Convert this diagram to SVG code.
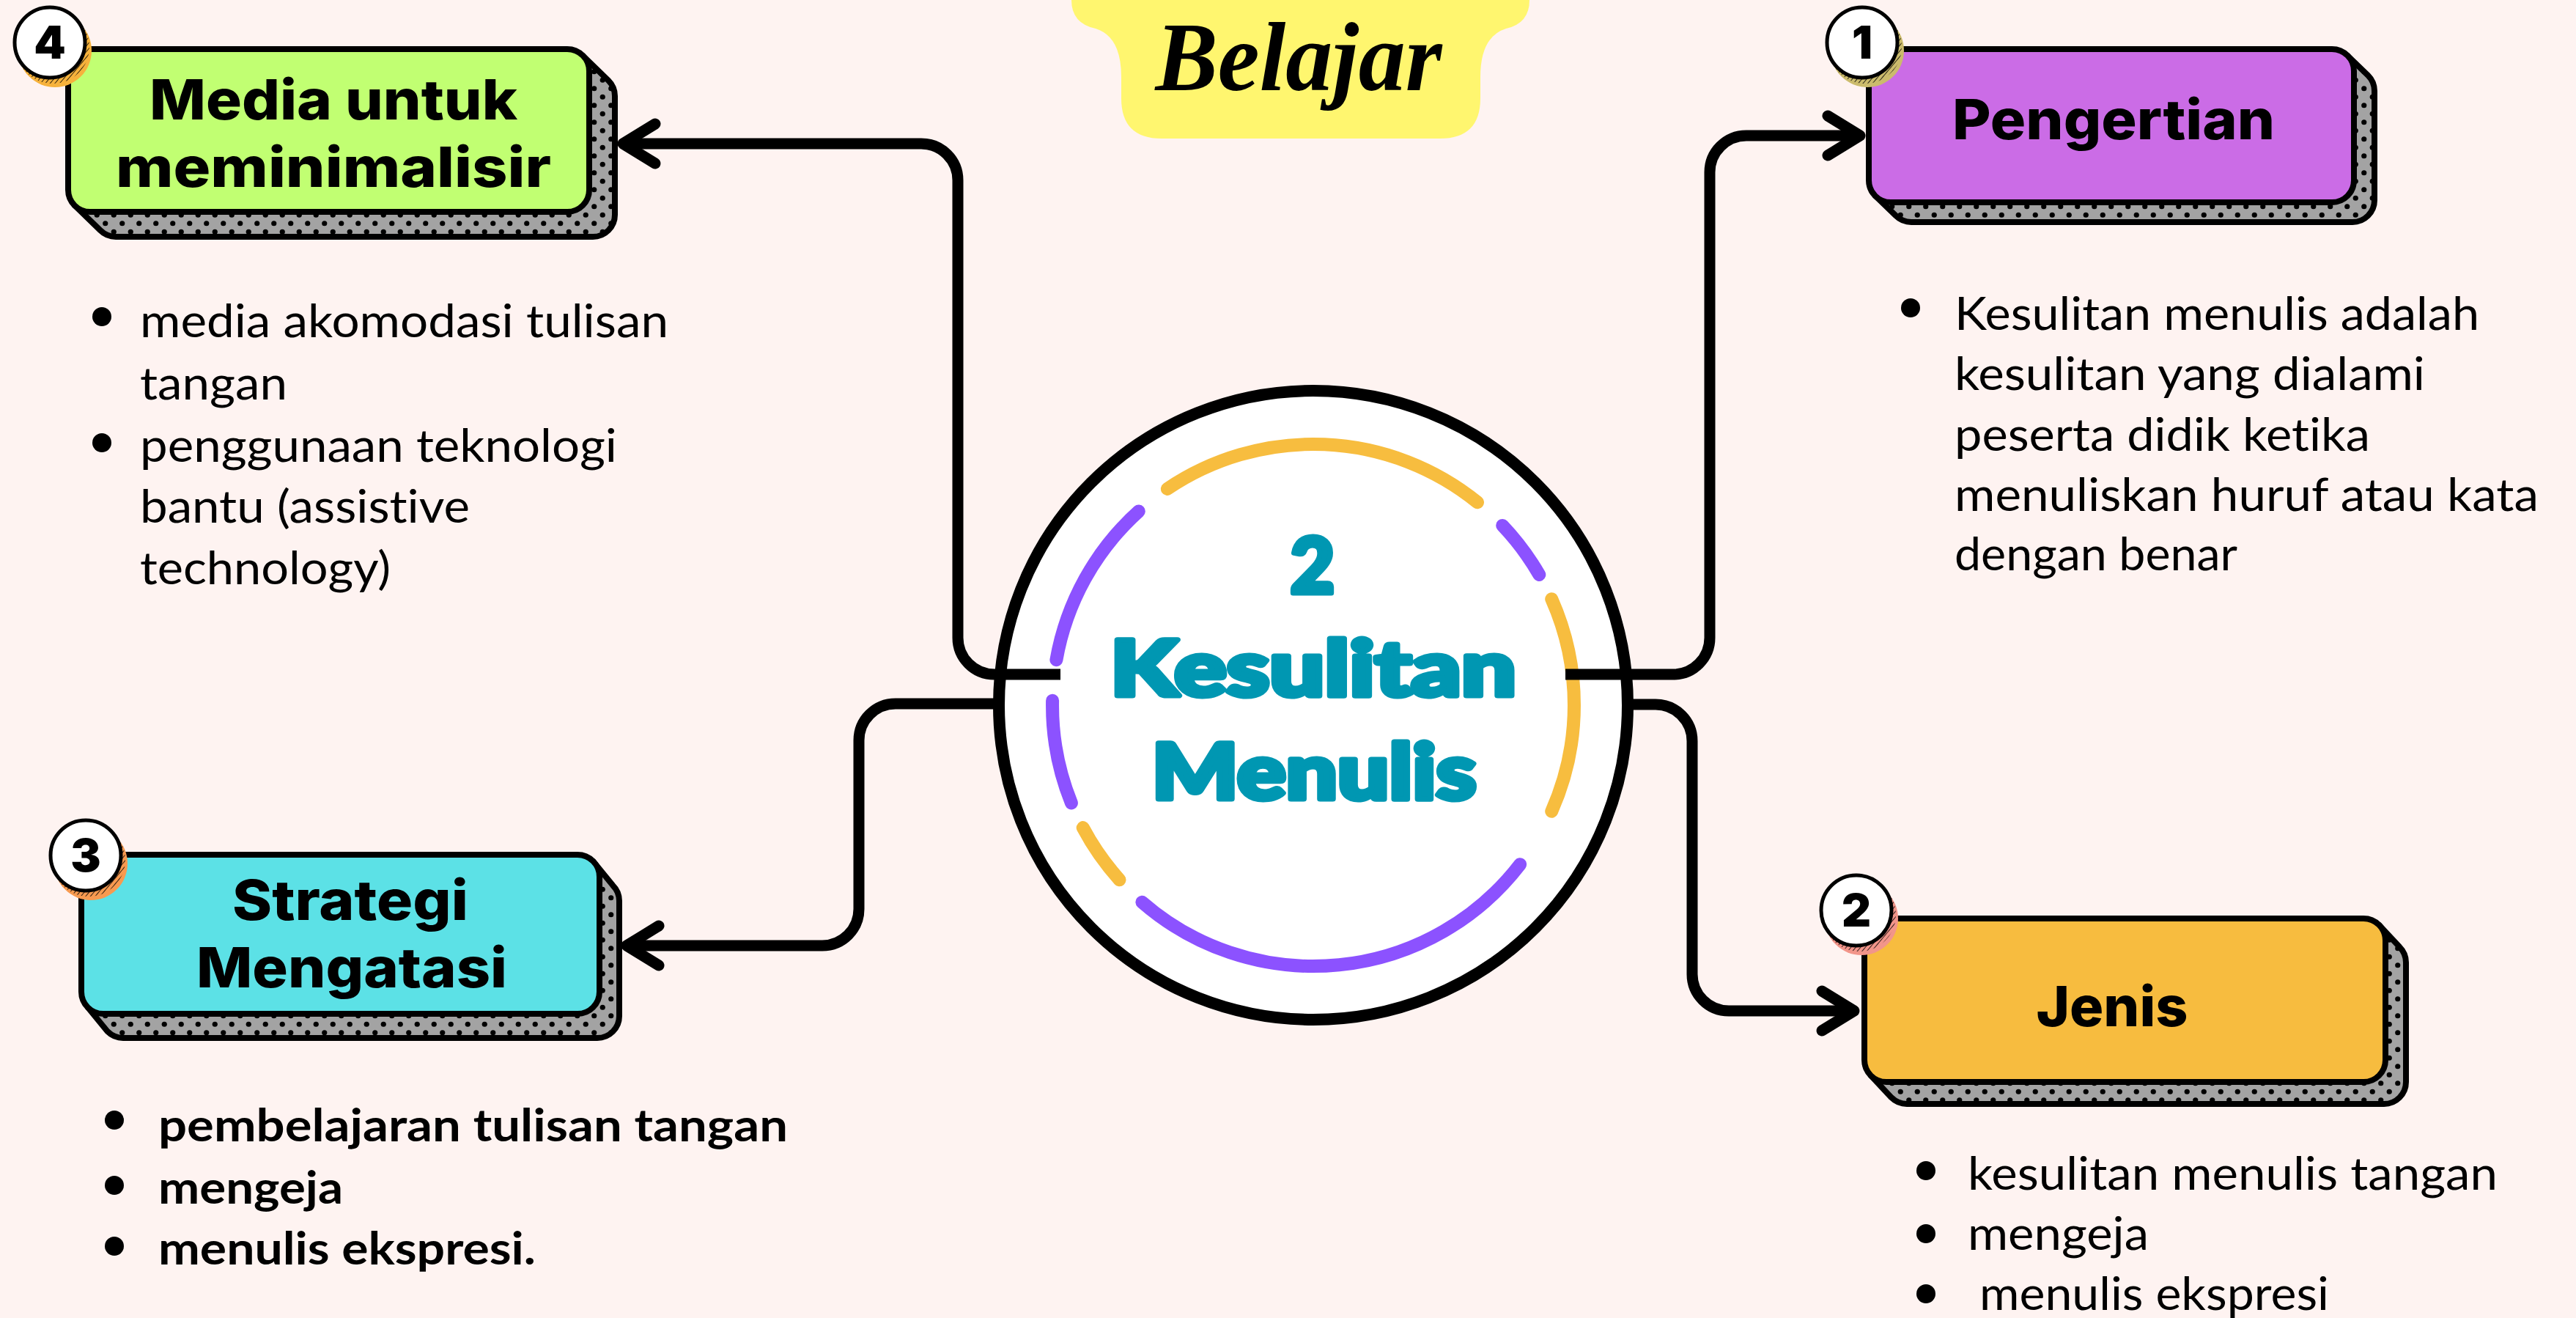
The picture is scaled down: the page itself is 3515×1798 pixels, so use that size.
<svg xmlns="http://www.w3.org/2000/svg" width="3515" height="1798" viewBox="0 0 3515 1798">
<style>
.box{stroke:#000;stroke-width:8}
.ext{fill:url(#dots);stroke:#000;stroke-width:8;stroke-linejoin:round}
.ttl{font-family:Inter,"Open Sans",sans-serif;font-weight:800;font-size:76px;fill:#000;text-anchor:middle}
.num{font-family:Inter,"Open Sans",sans-serif;font-weight:900;font-size:62px;fill:#000;text-anchor:middle}
.bw{fill:#fff;stroke:#000;stroke-width:5}
.body{font-family:Lato,"Open Sans",sans-serif;font-size:62px;fill:#000;font-variant-ligatures:none}
.bold{font-weight:700}
.conn{fill:none;stroke:#000;stroke-width:15;stroke-linecap:butt;stroke-linejoin:round}
.ring{fill:none;stroke-width:18;stroke-linecap:round}
.cen{font-family:Lato,Inter,sans-serif;font-weight:900;font-size:104px;fill:#0097B2;stroke:#0097B2;stroke-width:7;stroke-linejoin:round;text-anchor:middle}
</style>
<defs>
<pattern id="dots" width="23" height="23" patternUnits="userSpaceOnUse">
<rect width="23" height="23" fill="#A3A3A3"/>
<circle cx="5.75" cy="5.75" r="3.6" fill="#000"/>
<circle cx="17.25" cy="17.25" r="3.6" fill="#000"/>
</pattern>
<pattern id="hatch" width="5" height="5" patternUnits="userSpaceOnUse" patternTransform="rotate(40)">
<line x1="0" y1="0" x2="0" y2="5" stroke="#000" stroke-width="1.6"/>
</pattern>
<marker id="arr" markerUnits="userSpaceOnUse" markerWidth="80" markerHeight="80" viewBox="-60 -40 80 80" refX="0" refY="0" orient="auto" overflow="visible">
<path d="M-44,-27 L0,0 L-44,27" fill="none" stroke="#000" stroke-width="15" stroke-linecap="round" stroke-linejoin="round"/>
</marker>
</defs>
<rect width="3515" height="1798" fill="#FEF3F1"/>

<g id="title">
<path d="M1462,0 L2087,0 Q2087,32 2055,39 Q2020,50 2020,105 L2020,134 Q2020,189 1965,189 L1585,189 Q1530,189 1530,134 L1530,105 Q1530,50 1495,39 Q1462,32 1462,0 Z" fill="#FFF66F"/>
<text x="1772" y="123" font-family="'Liberation Serif',serif" font-style="italic" font-weight="700" font-size="134" text-anchor="middle" textLength="391" lengthAdjust="spacingAndGlyphs">Belajar</text>
</g>

<g id="center">
<circle cx="1792" cy="962" r="429" fill="#fff" stroke="#000" stroke-width="16"/>
<path class="ring" stroke="#F7BD3F" d="M1592.9,666.9 A356 356 0 0 1 2016,685.3"/>
<path class="ring" stroke="#8C52FF" d="M2050.2,716.9 A356 356 0 0 1 2100.3,784"/>
<path class="ring" stroke="#F7BD3F" d="M2117.2,817.2 A356 356 0 0 1 2117.2,1106.8"/>
<path class="ring" stroke="#8C52FF" d="M2074.1,1179.2 A356 356 0 0 1 1558.4,1230.7"/>
<path class="ring" stroke="#F7BD3F" d="M1527.5,1200.2 A356 356 0 0 1 1477.7,1129.1"/>
<path class="ring" stroke="#8C52FF" d="M1461.9,1095.4 A356 356 0 0 1 1436.1,955.8"/>
<path class="ring" stroke="#8C52FF" d="M1441.4,900.2 A356 356 0 0 1 1553.8,697.5"/>
<text class="cen" x="1791" y="809">2</text>
<text class="cen" x="1792" y="949" textLength="554" lengthAdjust="spacingAndGlyphs">Kesulitan</text>
<text class="cen" x="1793" y="1090" textLength="443" lengthAdjust="spacingAndGlyphs">Menulis</text>
</g>

<g id="connectors">
<path class="conn" marker-end="url(#arr)" d="M1447,920 H1357 A50 50 0 0 1 1307,870 V246 A50 50 0 0 0 1257,196 H850"/>
<path class="conn" marker-end="url(#arr)" d="M1356,960 H1222 A50 50 0 0 0 1172,1010 V1240 A50 50 0 0 1 1122,1290 H855"/>
<path class="conn" marker-end="url(#arr)" d="M2136,920 H2283 A50 50 0 0 0 2333,870 V235 A50 50 0 0 1 2383,185 H2538"/>
<path class="conn" marker-end="url(#arr)" d="M2228,961 H2259 A50 50 0 0 1 2309,1011 V1329 A50 50 0 0 0 2359,1379 H2530"/>
</g>

<g id="node4">
<path class="ext" d="M795.2,75.8 L830.2,109.8 A30 30 0 0 1 839,131 L839,293 A30 30 0 0 1 809,323 L158,323 A30 30 0 0 1 136.8,314.2 L101.8,280.2 Z"/>
<rect class="box" x="93" y="67" width="711" height="222" rx="30" fill="#C1FF72"/>
<text class="ttl" x="455" y="163" textLength="502" lengthAdjust="spacingAndGlyphs">Media untuk</text>
<text class="ttl" x="455" y="255" textLength="594" lengthAdjust="spacingAndGlyphs">meminimalisir</text>
<circle cx="75" cy="69" r="50" fill="#F6B23C"/>
<circle cx="72" cy="64" r="50" fill="url(#hatch)"/>
<circle class="bw" cx="68" cy="58" r="48"/>
<text class="num" x="68" y="80">4</text>
</g>

<g id="node4-text">
<circle cx="139" cy="432" r="13"/>
<text class="body" x="191" y="460" textLength="721" lengthAdjust="spacingAndGlyphs">media akomodasi tulisan</text>
<text class="body" x="191" y="545" textLength="201" lengthAdjust="spacingAndGlyphs">tangan</text>
<circle cx="139" cy="604" r="13"/>
<text class="body" x="191" y="630" textLength="651" lengthAdjust="spacingAndGlyphs">penggunaan teknologi</text>
<text class="body" x="191" y="713" textLength="450" lengthAdjust="spacingAndGlyphs">bantu (assistive</text>
<text class="body" x="191" y="797" textLength="342" lengthAdjust="spacingAndGlyphs">technology)</text>
</g>

<g id="node1">
<path class="ext" d="M3203.2,75.8 L3231.2,102.8 A30 30 0 0 1 3240,124 L3240,273 A30 30 0 0 1 3210,303 L2608,303 A30 30 0 0 1 2586.8,294.2 L2558.8,267.2 Z"/>
<rect class="box" x="2550" y="67" width="662" height="209" rx="30" fill="#CB6CE6"/>
<text class="ttl" x="2884" y="190" textLength="440" lengthAdjust="spacingAndGlyphs">Pengertian</text>
<circle cx="2548" cy="69" r="50" fill="#CBBB6C"/>
<circle cx="2545" cy="64" r="50" fill="url(#hatch)"/>
<circle class="bw" cx="2541" cy="58" r="48"/>
<text class="num" x="2541" y="80">1</text>
</g>

<g id="node1-text">
<circle cx="2607" cy="420" r="13"/>
<text class="body" x="2667" y="450" textLength="716" lengthAdjust="spacingAndGlyphs">Kesulitan menulis adalah</text>
<text class="body" x="2667" y="532" textLength="642" lengthAdjust="spacingAndGlyphs">kesulitan yang dialami</text>
<text class="body" x="2667" y="615" textLength="567" lengthAdjust="spacingAndGlyphs">peserta didik ketika</text>
<text class="body" x="2667" y="697" textLength="797" lengthAdjust="spacingAndGlyphs">menuliskan huruf atau kata</text>
<text class="body" x="2667" y="778" textLength="386" lengthAdjust="spacingAndGlyphs">dengan benar</text>
</g>

<g id="node2">
<path class="ext" d="M3246.2,1261.8 L3274.2,1291.8 A30 30 0 0 1 3283,1313 L3283,1476 A30 30 0 0 1 3253,1506 L2602,1506 A30 30 0 0 1 2580.8,1497.2 L2552.8,1467.2 Z"/>
<rect class="box" x="2544" y="1253" width="711" height="223" rx="30" fill="#F7BC3F"/>
<text class="ttl" x="2882" y="1400" textLength="207" lengthAdjust="spacingAndGlyphs">Jenis</text>
<circle cx="2540" cy="1253" r="50" fill="#F2958A"/>
<circle cx="2537" cy="1248" r="50" fill="url(#hatch)"/>
<circle class="bw" cx="2533" cy="1242" r="48"/>
<text class="num" x="2533" y="1264">2</text>
</g>

<g id="node2-text">
<circle cx="2628" cy="1597" r="13"/>
<text class="body" x="2685" y="1623" textLength="723" lengthAdjust="spacingAndGlyphs">kesulitan menulis tangan</text>
<circle cx="2628" cy="1683" r="13"/>
<text class="body" x="2685" y="1705" textLength="247" lengthAdjust="spacingAndGlyphs">mengeja</text>
<circle cx="2628" cy="1765" r="13"/>
<text class="body" x="2701" y="1787" textLength="477" lengthAdjust="spacingAndGlyphs">menulis ekspresi</text>
</g>

<g id="node3">
<path class="ext" d="M809.2,1174.8 L836.2,1207.8 A30 30 0 0 1 845,1229 L845,1386 A30 30 0 0 1 815,1416 L168,1416 A30 30 0 0 1 146.8,1407.2 L119.8,1374.2 Z"/>
<rect class="box" x="111" y="1166" width="707" height="217" rx="30" fill="#5CE1E6"/>
<text class="ttl" x="478" y="1255" textLength="322" lengthAdjust="spacingAndGlyphs">Strategi</text>
<text class="ttl" x="480" y="1347" textLength="424" lengthAdjust="spacingAndGlyphs">Mengatasi</text>
<circle cx="124" cy="1178" r="50" fill="#F79A50"/>
<circle cx="121" cy="1173" r="50" fill="url(#hatch)"/>
<circle class="bw" cx="117" cy="1167" r="48"/>
<text class="num" x="117" y="1189">3</text>
</g>

<g id="node3-text">
<circle cx="156" cy="1528" r="13"/>
<text class="body bold" x="216" y="1557" textLength="859" lengthAdjust="spacingAndGlyphs">pembelajaran tulisan tangan</text>
<circle cx="156" cy="1617" r="13"/>
<text class="body bold" x="216" y="1642" textLength="252" lengthAdjust="spacingAndGlyphs">mengeja</text>
<circle cx="156" cy="1700" r="13"/>
<text class="body bold" x="216" y="1725" textLength="515" lengthAdjust="spacingAndGlyphs">menulis ekspresi.</text>
</g>
</svg>
